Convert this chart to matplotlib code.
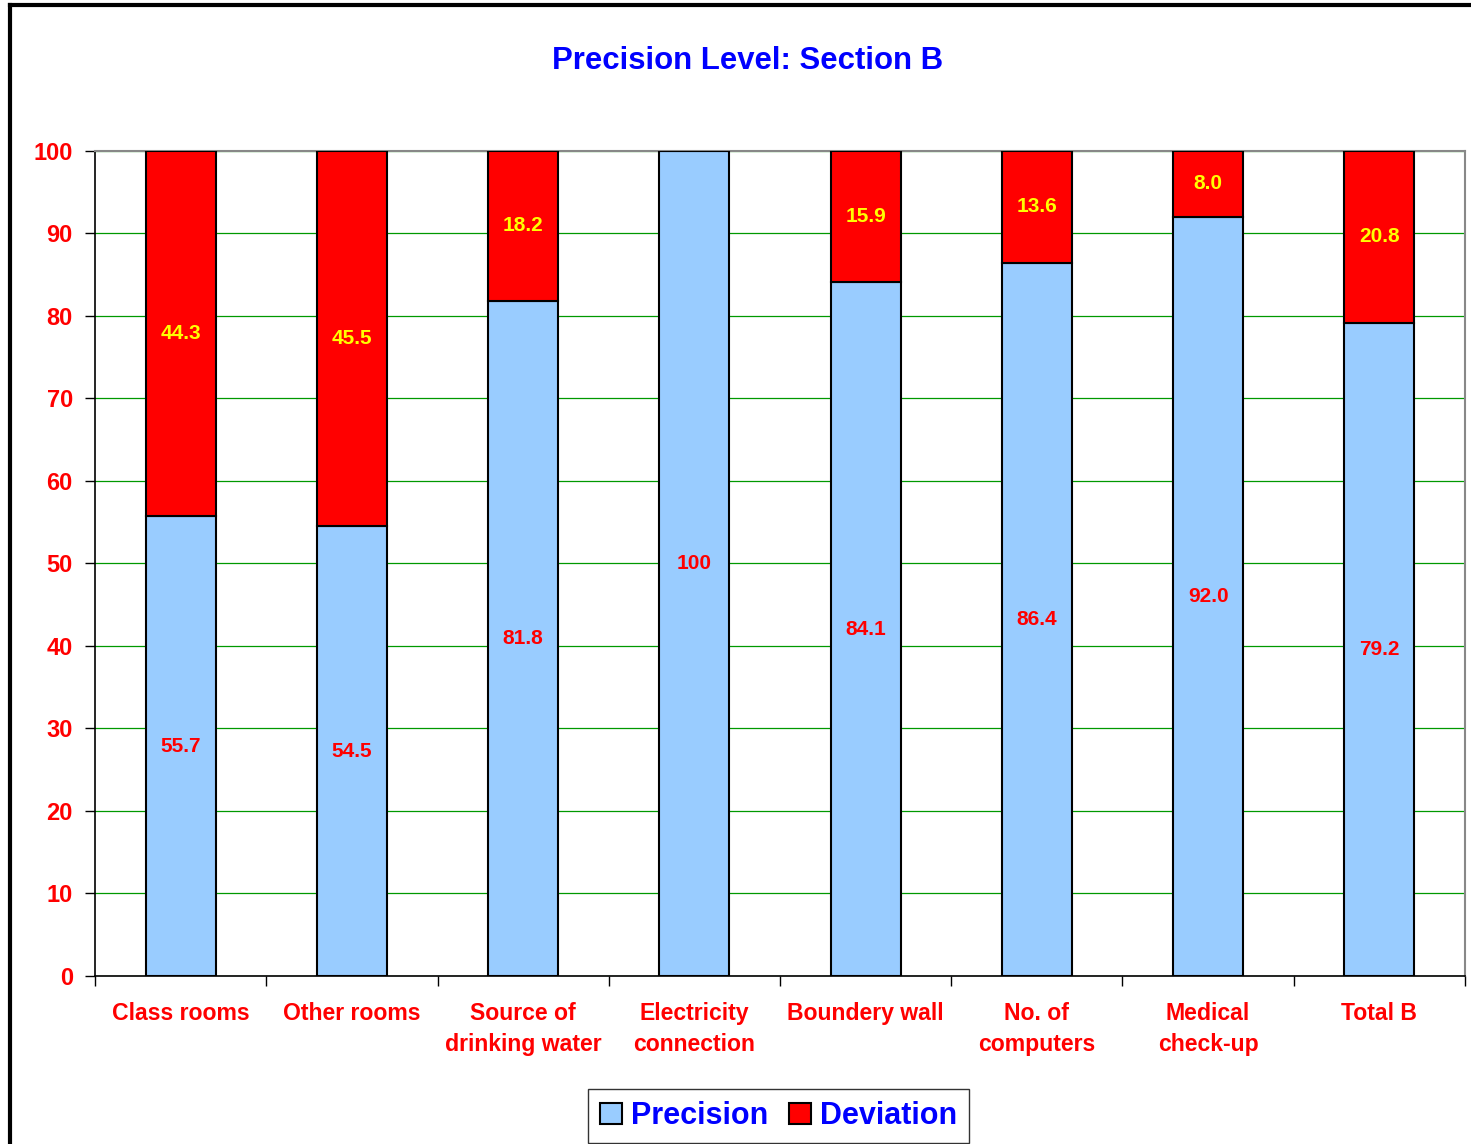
import matplotlib.pyplot as plt
import numpy as np
from matplotlib.lines import Line2D

plt.rcParams['font.family'] = ['Liberation Sans', 'DejaVu Sans']

categories = ['Class rooms', 'Other rooms', 'Source of\ndrinking water',
              'Electricity\nconnection', 'Boundery wall', 'No. of\ncomputers',
              'Medical\ncheck-up', 'Total B']
precision = [55.7, 54.5, 81.8, 100, 84.1, 86.4, 92.0, 79.2]
deviation = [44.3, 45.5, 18.2, 0, 15.9, 13.6, 8.0, 20.8]
precision_labels = ['55.7', '54.5', '81.8', '100', '84.1', '86.4', '92.0', '79.2']
deviation_labels = ['44.3', '45.5', '18.2', '', '15.9', '13.6', '8.0', '20.8']

fig = plt.figure(figsize=(14.71, 11.44), dpi=100)
ax = fig.add_axes([0.0646, 0.1469, 0.9313, 0.7212])

x = np.arange(len(categories))
w = 0.41
b1 = ax.bar(x, precision, w, color='#99CCFF', edgecolor='black', linewidth=1.5,
            label='Precision', zorder=3)
b2 = ax.bar(x, deviation, w, bottom=precision, color='#FF0000', edgecolor='black',
            linewidth=1.5, label='Deviation', zorder=3)

# value labels in the middle of each segment
for i in range(len(x)):
    ax.text(x[i], precision[i] / 2, precision_labels[i], ha='center', va='center',
            color='red', fontsize=15, fontweight='bold', zorder=4)
    if deviation[i] > 0:
        ax.text(x[i], precision[i] + deviation[i] / 2, deviation_labels[i],
                ha='center', va='center', color='yellow', fontsize=15,
                fontweight='bold', zorder=4)

ax.set_xlim(-0.5, len(categories) - 0.5)
ax.set_ylim(0, 100)
ax.set_yticks(np.arange(0, 101, 10))
ax.yaxis.grid(True, color='#009900', linewidth=0.9, zorder=0)
ax.set_axisbelow(True)

ax.set_xticks(x)
ax.set_xticklabels(categories, color='red', fontsize=16.6, fontweight='bold',
                   linespacing=1.45)
ax.tick_params(axis='x', which='major', length=0, pad=19)
ax.set_xticks(np.arange(-0.5, len(categories), 1), minor=True)
ax.tick_params(axis='x', which='minor', length=7, width=1, direction='out')
ax.tick_params(axis='y', length=7, width=1, direction='out', pad=9)
for lab in ax.get_yticklabels():
    lab.set_color('red')
    lab.set_fontsize(17)
    lab.set_fontweight('bold')

ax.spines['top'].set_color('#888888')
ax.spines['right'].set_color('#888888')
ax.spines['top'].set_linewidth(1.5)
ax.spines['right'].set_linewidth(1.5)
ax.spines['left'].set_linewidth(1.2)
ax.spines['bottom'].set_linewidth(1.2)

fig.text(0.5085, 0.9465, 'Precision Level: Section B', ha='center', va='center',
         color='#0000FF', fontsize=22.4, fontweight='bold')

leg = ax.legend(loc='center', bbox_to_anchor=(0.499, -0.17), ncol=2,
                frameon=True, fancybox=False, edgecolor='black',
                prop={'size': 22, 'weight': 'bold'}, handlelength=0.7,
                handleheight=0.7, handletextpad=0.3, columnspacing=0.7,
                borderpad=0.4)
leg.get_frame().set_linewidth(1.0)
for t in leg.get_texts():
    t.set_color('#0000FF')

# outer border of the chart (left and top edges visible)
fig.add_artist(Line2D([0.0068, 0.0068], [0.0, 0.9955], color='black', linewidth=3,
                      transform=fig.transFigure))
fig.add_artist(Line2D([0.0068, 1.0], [0.9955, 0.9955], color='black', linewidth=3,
                      transform=fig.transFigure))

fig.savefig('out.png', dpi=100)
